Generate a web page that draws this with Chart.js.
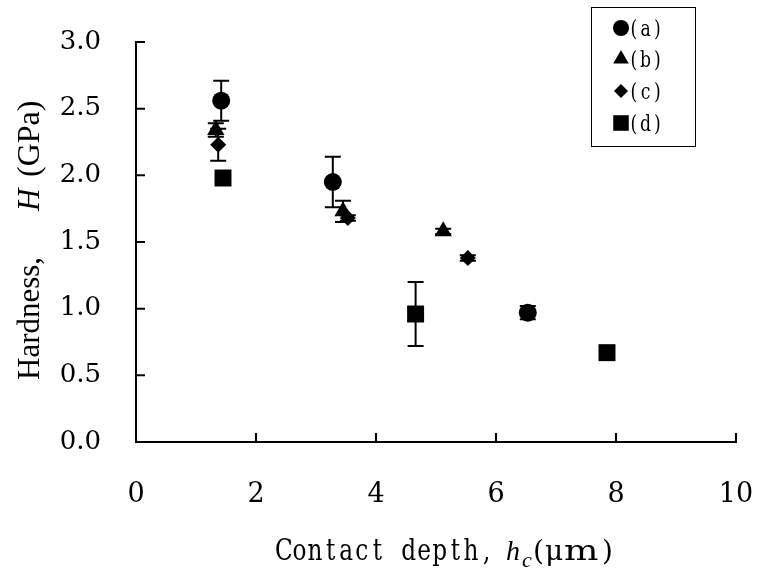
<!DOCTYPE html>
<html>
<head>
<meta charset="utf-8">
<script src="https://cdn.jsdelivr.net/npm/chart.js@4.4.0/dist/chart.umd.min.js"></script>
<style>
  html, body { margin: 0; padding: 0; background: #fff; }
</style>
</head>
<body>
<canvas id="chart" width="758" height="576"></canvas>
<script>
// ===== Data =====
const seriesLabels = ["(a)", "(b)", "(c)", "(d)"];
const pointStyles = ["circle", "triangle", "rectRot", "rect"];
const pointRadii = [9, 10, 8, 12];

const depthA = [1.42, 3.28, 6.53];
const hardA  = [2.56, 1.95, 0.97];
const errA   = [0.15, 0.19, 0.05];

const depthB = [1.33, 3.45, 5.12];
const hardB  = [2.34, 1.73, 1.58];
const errB   = [0.05, 0.08, 0.02];

const depthC = [1.37, 3.53, 5.53];
const hardC  = [2.23, 1.68, 1.38];
const errC   = [0.12, 0.02, 0.02];

const depthD = [1.45, 4.66, 7.85];
const hardD  = [1.98, 0.96, 0.67];
const errD   = [0.04, 0.24, 0.02];

const xTicks = [0, 2, 4, 6, 8, 10];
const yTicks = [0, 0.5, 1.0, 1.5, 2.0, 2.5, 3.0];

const allX = [depthA, depthB, depthC, depthD];
const allY = [hardA, hardB, hardC, hardD];
const allErr = [errA, errB, errC, errD];

// ===== Helpers =====
function toPoints(xs, ys) {
  return xs.map((x, i) => ({ x, y: ys[i] }));
}

// draw text with a fixed cell per character (half-width CJK-font look)
function drawCells(ctx, text, x, y, cell, sx) {
  ctx.textAlign = "center";
  for (let i = 0; i < text.length; i++) {
    ctx.save();
    ctx.translate(x + cell * i + cell / 2, y);
    ctx.scale(sx, 1);
    ctx.fillText(text[i], 0, 0);
    ctx.restore();
  }
  ctx.textAlign = "left";
  return x + cell * text.length;
}

// ===== Plugin: error bars, inward ticks, legend, axis titles =====
const decorPlugin = {
  id: "decor",
  beforeDatasetsDraw(chart) {
    const ctx = chart.ctx;
    const xs = chart.scales.x, ys = chart.scales.y;
    ctx.save();
    ctx.strokeStyle = "#000";
    ctx.lineWidth = 2;
    allErr.forEach((errs, s) => {
      errs.forEach((e, i) => {
        const px = xs.getPixelForValue(allX[s][i]);
        const top = ys.getPixelForValue(allY[s][i] + e);
        const bot = ys.getPixelForValue(allY[s][i] - e);
        ctx.beginPath();
        ctx.moveTo(px, top); ctx.lineTo(px, bot);
        ctx.moveTo(px - 8, top); ctx.lineTo(px + 8, top);
        ctx.moveTo(px - 8, bot); ctx.lineTo(px + 8, bot);
        ctx.stroke();
      });
    });
    ctx.restore();
  },
  afterDraw(chart) {
    const ctx = chart.ctx;
    const xs = chart.scales.x, ys = chart.scales.y;
    const area = chart.chartArea;
    ctx.save();

    // inward tick marks
    ctx.strokeStyle = "#000";
    ctx.lineWidth = 2;
    ctx.beginPath();
    xTicks.forEach(v => {
      const px = xs.getPixelForValue(v);
      ctx.moveTo(px, area.bottom); ctx.lineTo(px, area.bottom - 9);
    });
    yTicks.forEach(v => {
      const py = ys.getPixelForValue(v);
      ctx.moveTo(area.left, py); ctx.lineTo(area.left + 9, py);
    });
    ctx.stroke();

    // legend box
    ctx.lineWidth = 1;
    ctx.strokeRect(591.5, 7.5, 104, 139);
    const rows = [28, 59, 91, 123];
    const legRadii = [8, 9, 7, 11];
    seriesLabels.forEach((lab, i) => {
      ctx.fillStyle = "#000";
      Chart.helpers.drawPoint(ctx, {
        pointStyle: pointStyles[i], radius: legRadii[i], rotation: 0, borderWidth: 0
      }, 621, rows[i]);
      ctx.font = "23px 'DejaVu Serif'";
      ctx.textBaseline = "alphabetic";
      drawCells(ctx, lab, 628, rows[i] + 8, 11.7, 0.75);
    });

    // x axis title
    ctx.fillStyle = "#000";
    ctx.textBaseline = "alphabetic";
    ctx.textAlign = "left";
    const base = 560;
    ctx.font = "29px 'DejaVu Serif'";
    drawCells(ctx, "Contact depth,", 276, base, 15.6, 0.8);
    ctx.font = "italic 28px 'Liberation Serif'";
    ctx.fillText("h", 506, base);
    ctx.font = "italic 22px 'Liberation Serif'";
    ctx.fillText("c", 522, base + 7);
    ctx.font = "28px 'DejaVu Serif'";
    ctx.fillText("(", 533, base);
    ctx.fillText("\u03bc", 545, base);
    ctx.save();
    ctx.translate(564, base);
    ctx.scale(1.3, 1);
    ctx.fillText("m", 0, 0);
    ctx.restore();
    ctx.fillText(")", 602, base);

    // y axis title (rotated)
    ctx.translate(39, 380);
    ctx.rotate(-Math.PI / 2);
    ctx.font = "31px 'Liberation Serif'";
    ctx.fillText("Hardness,", 0, 0);
    ctx.font = "italic 31px 'Liberation Serif'";
    ctx.fillText("H", 169, 0);
    ctx.font = "32px 'Liberation Serif'";
    ctx.fillText("(GPa)", 203, 0);

    ctx.restore();
  }
};

// ===== Chart =====
const datasets = seriesLabels.map((lab, i) => ({
  label: lab,
  data: toPoints(allX[i], allY[i]),
  pointStyle: pointStyles[i],
  pointRadius: pointRadii[i],
  pointHoverRadius: pointRadii[i],
  pointBackgroundColor: "#000",
  pointBorderColor: "#000",
  pointBorderWidth: 0,
  showLine: false
}));

new Chart(document.getElementById("chart"), {
  type: "scatter",
  data: { datasets },
  options: {
    responsive: false,
    animation: false,
    layout: { padding: { top: 42, right: 22, left: 0, bottom: 0 } },
    plugins: {
      legend: { display: false },
      tooltip: { enabled: false }
    },
    scales: {
      x: {
        type: "linear",
        min: 0, max: 10,
        afterBuildTicks: s => { s.ticks = xTicks.map(v => ({ value: v })); },
        afterFit: s => { s.height = 134; s.paddingLeft = 0; s.paddingRight = 0; },
        grid: { display: false, drawTicks: false },
        border: { display: true, color: "#000", width: 2 },
        ticks: {
          color: "#000",
          padding: 37,
          maxRotation: 0,
          font: { family: "'DejaVu Serif'", size: 27 }
        }
      },
      y: {
        type: "linear",
        min: 0, max: 3,
        afterBuildTicks: s => { s.ticks = yTicks.map(v => ({ value: v })); },
        afterFit: s => { s.width = 136; s.paddingTop = 0; s.paddingBottom = 0; },
        grid: { display: false, drawTicks: false },
        border: { display: true, color: "#000", width: 2 },
        ticks: {
          color: "#000",
          padding: 35,
          callback: v => Number(v).toFixed(1),
          font: { family: "'DejaVu Serif'", size: 26 }
        }
      }
    }
  },
  plugins: [decorPlugin]
});
</script>
</body>
</html>
